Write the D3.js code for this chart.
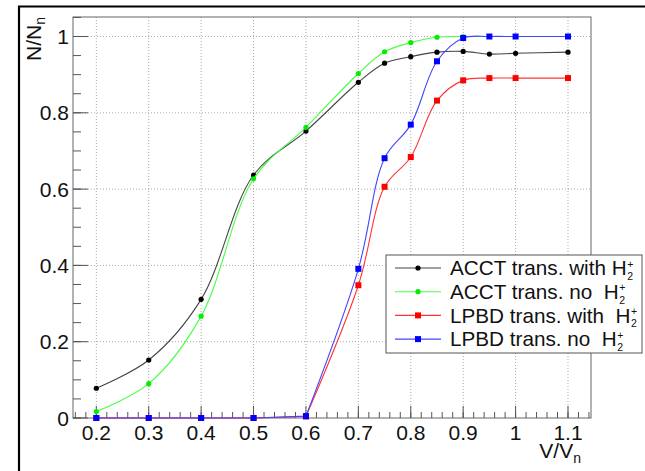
<!DOCTYPE html>
<html><head><meta charset="utf-8">
<script src="https://cdn.jsdelivr.net/npm/d3@7"></script>
<style>
html,body{margin:0;padding:0;background:#fff;}
svg{display:block;font-family:"Liberation Sans",Arial,Helvetica,sans-serif;}
</style></head>
<body>
<svg id="chart" width="645" height="471"></svg>
<script>
const voltages = [0.2,0.3,0.4,0.5,0.6,0.7,0.75,0.8,0.85,0.9,0.95,1.0,1.1];
const acctWith = [0.078,0.152,0.311,0.637,0.752,0.880,0.930,0.947,0.959,0.961,0.954,0.956,0.959];
const acctNo   = [0.017,0.090,0.267,0.627,0.762,0.903,0.960,0.984,0.998,1.0,1.0,1.0,1.0];
const lpbdWith = [0,0,0,0,0.004,0.348,0.606,0.684,0.832,0.885,0.891,0.891,0.891];
const lpbdNo   = [0,0,0,0,0.005,0.391,0.681,0.769,0.935,0.996,1.0,1.0,1.0];
const xTicks = [0.2,0.3,0.4,0.5,0.6,0.7,0.8,0.9,1.0,1.1];
const yTicks = [0,0.2,0.4,0.6,0.8,1];
const seriesNames = ["ACCT trans. with ", "ACCT trans. no  ", "LPBD trans. with  ", "LPBD trans. no  "];

const series = [
  {name: seriesNames[0], values: acctWith, color:"#000", line:"#444", marker:"circle", split:0},
  {name: seriesNames[1], values: acctNo, color:"#00ee00", line:"#44ff44", marker:"circle", split:0},
  {name: seriesNames[2], values: lpbdWith, color:"#ff0000", line:"#ff3333", marker:"square", split:4},
  {name: seriesNames[3], values: lpbdNo, color:"#0000ff", line:"#4444ff", marker:"square", split:4}
];

const svg = d3.select("#chart");
const L=73, R=591, T=17, B=418;
const FS = 21;
const LFS = 20.7;
const x = d3.scaleLinear().domain([0.1555,1.1439]).range([L,R]);
const y = d3.scaleLinear().domain([0,1]).range([B,36.5]);

// outer frame
svg.append("path").attr("d","M19,475 L19,6.5 L650,6.5").attr("fill","none").attr("stroke","#000").attr("stroke-width",2.2);

// grid
const g = svg.append("g");
g.selectAll(".gx").data(xTicks).enter().append("line")
  .attr("x1",d=>x(d)).attr("x2",d=>x(d)).attr("y1",T).attr("y2",B)
  .attr("stroke","#aaa").attr("stroke-width",1).attr("stroke-dasharray","1,2");
g.selectAll(".gy").data(yTicks.filter(d=>d>0)).enter().append("line")
  .attr("x1",L).attr("x2",R).attr("y1",d=>y(d)).attr("y2",d=>y(d))
  .attr("stroke","#aaa").attr("stroke-width",1).attr("stroke-dasharray","1,2");

// plot frame
svg.append("rect").attr("x",L).attr("y",T).attr("width",R-L).attr("height",B-T)
  .attr("fill","none").attr("stroke","#666").attr("stroke-width",1);

// x ticks
const xMinor = d3.range(0.16,1.145,0.02);
svg.append("g").selectAll("line").data(xMinor).enter().append("line")
  .attr("x1",d=>x(d)).attr("x2",d=>x(d)).attr("y1",B).attr("y2",B-6).attr("stroke","#555");
svg.append("g").selectAll("line").data(xTicks).enter().append("line")
  .attr("x1",d=>x(d)).attr("x2",d=>x(d)).attr("y1",B).attr("y2",B-12).attr("stroke","#555");
svg.append("g").selectAll("text").data(xTicks).enter().append("text")
  .attr("x",d=>x(d)).attr("y",439.5).attr("text-anchor","middle").attr("font-size",FS).attr("fill","#111")
  .text(d=>d3.format("")(+d.toFixed(1)));

// y ticks
const yMinor = d3.range(0,1.051,0.05);
svg.append("g").selectAll("line").data(yMinor).enter().append("line")
  .attr("y1",d=>y(d)).attr("y2",d=>y(d)).attr("x1",L).attr("x2",L+8).attr("stroke","#555");
svg.append("g").selectAll("line").data(yTicks).enter().append("line")
  .attr("y1",d=>y(d)).attr("y2",d=>y(d)).attr("x1",L).attr("x2",L+15).attr("stroke","#555");
svg.append("g").selectAll("text").data(yTicks).enter().append("text")
  .attr("x",69).attr("y",d=>y(d)+7.5).attr("text-anchor","end").attr("font-size",FS).attr("fill","#111")
  .text(d=>d3.format("")(+d.toFixed(1)));

// axis titles
const yt = svg.append("text").attr("transform","translate(41,17) rotate(-90)").attr("text-anchor","end")
  .attr("font-size",FS).attr("fill","#111");
yt.append("tspan").text("N/N");
yt.append("tspan").attr("font-size",14).attr("dy",4).text("n");
const xt = svg.append("text").attr("x",581).attr("y",458).attr("text-anchor","end")
  .attr("font-size",FS).attr("fill","#111");
xt.append("tspan").text("V/V");
xt.append("tspan").attr("font-size",14).attr("dy",5).text("n");

// data
const plot = svg.append("g");
const lineCR = d3.line().x(d=>x(d[0])).y(d=>y(d[1])).curve(d3.curveCatmullRom.alpha(0.5));
const lineLin = d3.line().x(d=>x(d[0])).y(d=>y(d[1]));
series.forEach(s=>{
  const pts = voltages.map((v,i)=>[v,s.values[i]]);
  let dstr = "";
  if(s.split>0){
    dstr = lineLin(pts.slice(0,s.split+1)) + lineCR(pts.slice(s.split));
  } else dstr = lineCR(pts);
  plot.append("path").attr("d",dstr)
    .attr("fill","none").attr("stroke",s.line).attr("stroke-width",1.1);
  if(s.marker==="circle"){
    plot.append("g").selectAll("circle").data(pts).enter().append("circle")
      .attr("cx",d=>x(d[0])).attr("cy",d=>y(d[1])).attr("r",2.6).attr("fill",s.color);
  } else {
    plot.append("g").selectAll("rect").data(pts).enter().append("rect")
      .attr("x",d=>x(d[0])-3).attr("y",d=>y(d[1])-3).attr("width",6).attr("height",6).attr("fill",s.color);
  }
});

// legend
const lg = svg.append("g");
lg.append("rect").attr("x",386).attr("y",255).attr("width",256).attr("height",98)
  .attr("fill","#fff").attr("stroke","#555").attr("stroke-width",1);
series.forEach((s,i)=>{
  const cy = 268 + i*23.7;
  lg.append("line").attr("x1",395).attr("x2",441).attr("y1",cy).attr("y2",cy).attr("stroke",s.line).attr("stroke-width",1.1);
  if(s.marker==="circle") lg.append("circle").attr("cx",418).attr("cy",cy).attr("r",2.6).attr("fill",s.color);
  else lg.append("rect").attr("x",415).attr("y",cy-3).attr("width",6).attr("height",6).attr("fill",s.color);
  const t = lg.append("text").attr("x",450).attr("y",cy+7.3).attr("font-size",LFS).attr("fill","#111")
    .style("white-space","pre").text(s.name + "H");
  const w = t.node().getComputedTextLength();
  lg.append("text").attr("x",450+w+0.5).attr("y",cy-0.5).attr("font-size",10.5).attr("fill","#111").text("+");
  lg.append("text").attr("x",450+w+0.5).attr("y",cy+12).attr("font-size",10.5).attr("fill","#111").text("2");
});
</script>
</body></html>
